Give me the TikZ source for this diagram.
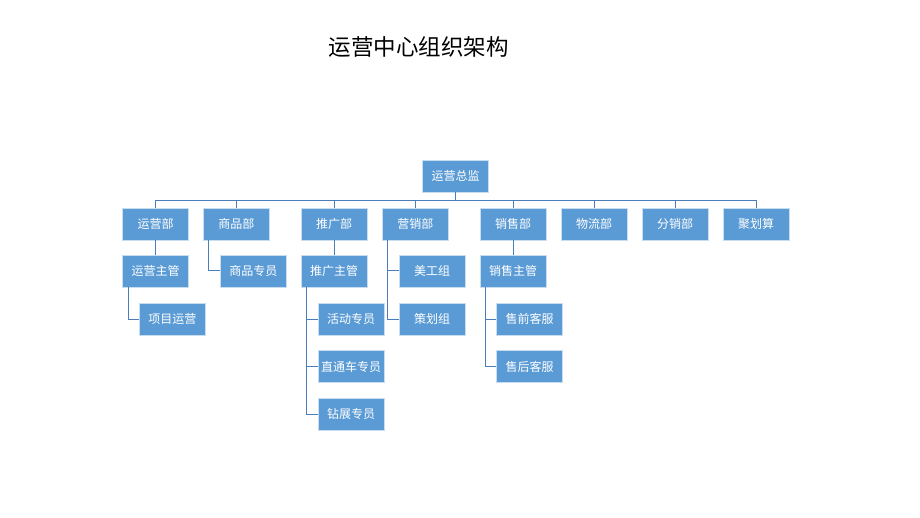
\documentclass[tikz,border=0pt]{standalone}
\usepackage{fontspec}
\newfontfamily\cjk{Noto Sans CJK SC}
\definecolor{orgblue}{HTML}{5B9BD5}
\definecolor{orgedge}{HTML}{C9DDF0}
\definecolor{orgline}{HTML}{4A7EBB}
\tikzset{
  unit/.style={draw=orgedge, fill=orgblue, line width=0.8pt, minimum width=66pt,
               minimum height=32pt, inner sep=0pt, text=white,
               font=\cjk\fontsize{12}{14}\selectfont},
  link/.style={orgline, line width=1pt},
  heading/.style={font=\cjk\fontsize{22.5}{26}\selectfont, text=black},
}

\begin{document}
\begin{tikzpicture}[x=1pt, y=-1pt]
  \useasboundingbox (0,0) rectangle (920,518);
  \node[heading] (title) at (418.5,47) {运营中心组织架构};
  \node[unit] (head) at (455.5,176) {运营总监};
  % departments on the bus
  \foreach \n/\x/\t in {d1/155.7/运营部, d2/236.3/商品部, d3/334/推广部, d4/415.3/营销部,
                        d5/513/销售部, d6/594/物流部, d7/675/分销部, d8/756/聚划算}
    { \node[unit] (\n) at (\x,224) {\t};
      \draw[link] (head.south) -- ++(0,8) -| (\n.north); }
  % second level
  \node[unit] (d1a) at (155.7,271) {运营主管};
  \node[unit] (d2a) at (253.3,271) {商品专员};
  \node[unit] (d3a) at (334,271) {推广主管};
  \node[unit] (d4a) at (432,271) {美工组};
  \node[unit] (d5a) at (513,271) {销售主管};
  % third level and below
  \node[unit] (d1b) at (172.3,319) {项目运营};
  \node[unit] (d3b) at (351,319) {活动专员};
  \node[unit] (d3c) at (351,366.5) {直通车专员};
  \node[unit] (d3d) at (351,414) {钻展专员};
  \node[unit] (d4b) at (432,319) {策划组};
  \node[unit] (d5b) at (529.7,319) {售前客服};
  \node[unit] (d5c) at (529.7,366.5) {售后客服};
  \foreach \a/\b in {d1/d1a, d3/d3a, d5/d5a}
    \draw[link] (\a.south) -- (\b.north);
  \foreach \a/\b in {d2/d2a, d1a/d1b, d4/d4a, d4/d4b, d3a/d3b, d3a/d3c, d3a/d3d, d5a/d5b, d5a/d5c}
    \draw[link] ([xshift=6pt]\a.south west) |- (\b.west);
\end{tikzpicture}
\end{document}
